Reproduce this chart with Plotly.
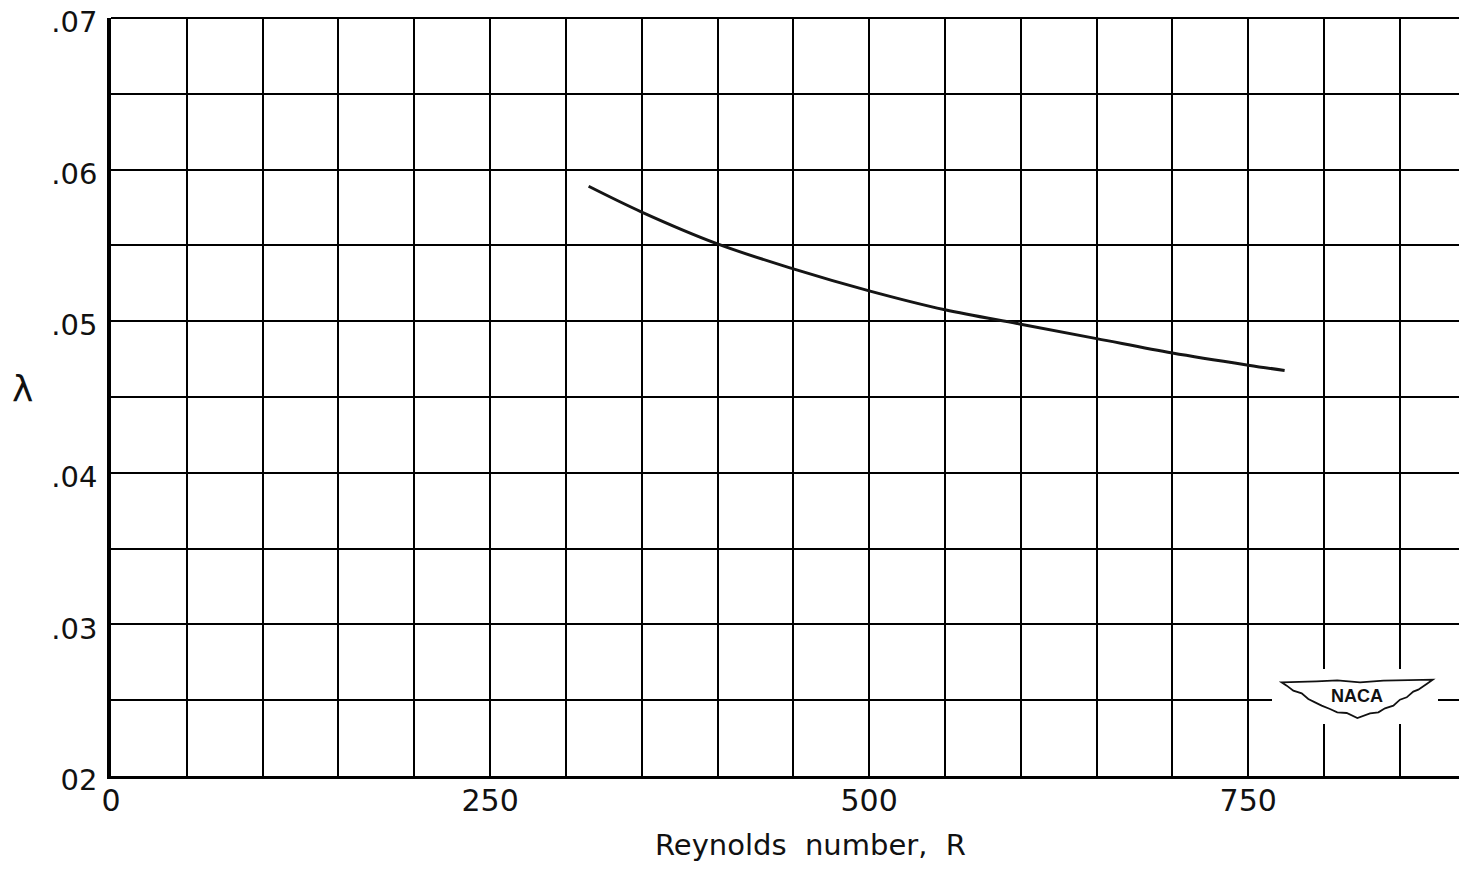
import plotly.graph_objects as go

# Data
reynolds = [315, 350, 400, 450, 500, 550, 600, 650, 700, 750, 774]
lam = [0.0589, 0.0572, 0.0551, 0.05345, 0.0520, 0.05075, 0.0498, 0.04885, 0.0479, 0.0471, 0.04675]

x_tickvals = [0, 250, 500, 750]
x_ticktext = ["0", "250", "500", "750"]
y_tickvals = [0.02, 0.03, 0.04, 0.05, 0.06, 0.07]
y_ticktext = ["02", ".03", ".04", ".05", ".06", ".07"]

FONT = "DejaVu Sans, Liberation Sans, sans-serif"

# page geometry (browser body has 8px margin)
W, H = 1451, 855
L, T, B = 103, 10, 87
PW, PH = W - L, H - T - B


def pp(px, py):
    """page pixel -> paper coords (decoration only)"""
    fx, fy = px - 8, py - 9
    return (fx - L) / PW, (T + PH - fy) / PH


fig = go.Figure()
fig.add_trace(go.Scatter(
    x=reynolds, y=lam, mode="lines",
    line=dict(color="#151515", width=3, shape="spline", smoothing=1.0),
    hoverinfo="skip", showlegend=False,
))

grid_color = "#000000"
fig.update_xaxes(
    range=[0, 889], tickvals=x_tickvals, ticktext=x_ticktext,
    showgrid=True, gridcolor=grid_color, gridwidth=1.7,
    minor=dict(dtick=50, tick0=0, showgrid=True, gridcolor=grid_color, gridwidth=1.7),
    showline=True, linecolor="#000", linewidth=2.5, mirror=False,
    zeroline=False, ticks="", tickfont=dict(family=FONT, size=30, color="#111"),
    ticklabelstandoff=-4, ticklabeloverflow="allow", automargin=False,
)
fig.update_yaxes(
    range=[0.0199999, 0.0700001], tickvals=y_tickvals, ticktext=y_ticktext,
    showgrid=True, gridcolor=grid_color, gridwidth=1.7,
    minor=dict(dtick=0.005, tick0=0.02, showgrid=True, gridcolor=grid_color, gridwidth=1.7),
    showline=True, linecolor="#000", linewidth=3.5,
    zeroline=False, ticks="", tickfont=dict(family=FONT, size=29, color="#111"),
    ticklabelstandoff=4, ticklabelshift=4, ticklabeloverflow="allow", automargin=False,
)
# top border of the grid
fig.add_shape(type="line", xref="paper", yref="paper", x0=0, x1=1, y0=1, y1=1,
              line=dict(color="#000", width=2), layer="above")

# white gap behind the NACA logo
x0, y0 = pp(1272, 670)
x1, y1 = pp(1438, 725)
fig.add_shape(type="rect", xref="paper", yref="paper", x0=x0, y0=y1, x1=x1, y1=y0,
              fillcolor="white", line=dict(width=0), layer="above")

# NACA wing outline (decoration), traced in page pixels
crop_pts = [(95, 100), (200, 97), (262, 94), (330, 100), (400, 95), (548, 92),
            (530, 105), (505, 122), (490, 128), (470, 145), (450, 152), (430, 170),
            (405, 178), (385, 190), (360, 193), (322, 207),
            (290, 192), (262, 190), (240, 180), (215, 170), (195, 160), (175, 150),
            (155, 133), (130, 125), (110, 110)]
pts = [pp(1250 + cx / 3, 650 + cy / 3) for cx, cy in crop_pts]
path = "M " + " L ".join(f"{a:.4f} {b:.4f}" for a, b in pts) + " Z"
fig.add_shape(type="path", xref="paper", yref="paper", path=path,
              fillcolor="white", line=dict(color="#111", width=1.8), layer="above")
nx, ny = pp(1357, 697)
fig.add_annotation(
    xref="paper", yref="paper", x=nx, y=ny, xanchor="center", yanchor="middle",
    text="<b>NACA</b>", showarrow=False,
    font=dict(family="Liberation Sans, Arial, sans-serif", size=18, color="#111"),
)

# Axis titles
tx, ty = pp(810, 846)
fig.add_annotation(
    xref="paper", yref="paper", x=tx, y=ty, xanchor="center", yanchor="middle",
    text="Reynolds  number,  R",
    showarrow=False, font=dict(family=FONT, size=29, color="#111"),
)
lx, ly = pp(23, 389)
fig.add_annotation(
    xref="paper", yref="paper", x=lx, y=ly, xanchor="center", yanchor="middle",
    text="λ",
    showarrow=False, font=dict(family=FONT, size=36, color="#111"),
)

fig.update_layout(
    width=W, height=H,
    margin=dict(l=L, r=0, t=T, b=B),
    plot_bgcolor="white", paper_bgcolor="white",
    font=dict(family=FONT),
)

fig.write_html("out.html")
